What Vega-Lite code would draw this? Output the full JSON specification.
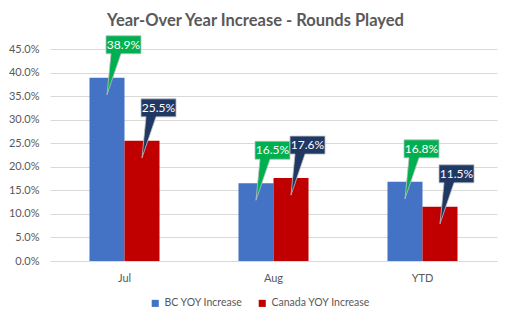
{
  "$schema": "https://vega.github.io/schema/vega-lite/v6.json",
  "width": 447,
  "height": 212,
  "autosize": {"type": "none"},
  "padding": {"left": 50, "top": 49, "right": 15, "bottom": 61},
  "background": "white",
  "title": {
    "text": "Year-Over Year Increase - Rounds Played",
    "font": "Lato",
    "fontSize": 16.5,
    "fontWeight": "bold",
    "color": "#595959",
    "anchor": "middle",
    "frame": "group",
    "dx": -18,
    "offset": 5
  },
  "data": {
    "values": [
      {"month": "Jul", "series": "BC YOY Increase", "value": 0.389},
      {"month": "Jul", "series": "Canada YOY Increase", "value": 0.255},
      {"month": "Aug", "series": "BC YOY Increase", "value": 0.165},
      {"month": "Aug", "series": "Canada YOY Increase", "value": 0.176},
      {"month": "YTD", "series": "BC YOY Increase", "value": 0.168},
      {"month": "YTD", "series": "Canada YOY Increase", "value": 0.115}
    ]
  },
  "encoding": {
    "x": {
      "field": "month",
      "type": "nominal",
      "sort": ["Jul", "Aug", "YTD"],
      "scale": {"paddingInner": 0.53, "paddingOuter": 0.265},
      "axis": {
        "title": null,
        "labelAngle": 0,
        "domain": true,
        "domainColor": "#D9D9D9",
        "ticks": false,
        "labelFont": "Lato",
        "labelFontSize": 11,
        "labelColor": "#595959",
        "labelPadding": 11
      }
    },
    "xOffset": {"field": "series", "type": "nominal"},
    "y": {
      "field": "value",
      "type": "quantitative",
      "scale": {"domain": [0, 0.45]},
      "axis": {
        "title": null,
        "format": ".1%",
        "values": [0, 0.05, 0.1, 0.15, 0.2, 0.25, 0.3, 0.35, 0.4, 0.45],
        "domain": false,
        "ticks": false,
        "gridColor": "#D9D9D9",
        "labelFont": "Lato",
        "labelFontSize": 11,
        "labelColor": "#595959",
        "labelPadding": 11
      }
    }
  },
  "layer": [
    {
      "mark": {"type": "bar"},
      "encoding": {
        "color": {
          "field": "series",
          "type": "nominal",
          "scale": {"domain": ["BC YOY Increase", "Canada YOY Increase"], "range": ["#4472C4", "#C00000"]},
          "legend": {
            "title": null,
            "orient": "none",
            "legendX": 100,
            "legendY": 249,
            "direction": "horizontal",
            "symbolType": "square",
            "symbolSize": 50,
            "labelFont": "Lato",
            "labelFontSize": 10.5,
            "labelColor": "#595959",
            "columnPadding": 14
          }
        }
      }
    },
    {
      "mark": {
        "type": "point",
        "shape": "M-1,-42 L34,-42 L34,-24 L14,-24 L0,17 L4,-24 L-1,-24 Z",
        "size": 4,
        "filled": true,
        "opacity": 1,
        "stroke": "#BFBFBF",
        "strokeWidth": 0.8
      },
      "encoding": {
        "fill": {
          "condition": {"test": "datum.series === 'BC YOY Increase'", "value": "#00B050"},
          "value": "#203864"
        }
      }
    },
    {
      "mark": {
        "type": "text",
        "dx": 16.5,
        "dy": -33,
        "align": "center",
        "baseline": "middle",
        "color": "white",
        "font": "Lato",
        "fontSize": 12
      },
      "encoding": {
        "text": {"field": "value", "type": "quantitative", "format": ".1%"}
      }
    }
  ],
  "config": {"view": {"stroke": null}}
}
